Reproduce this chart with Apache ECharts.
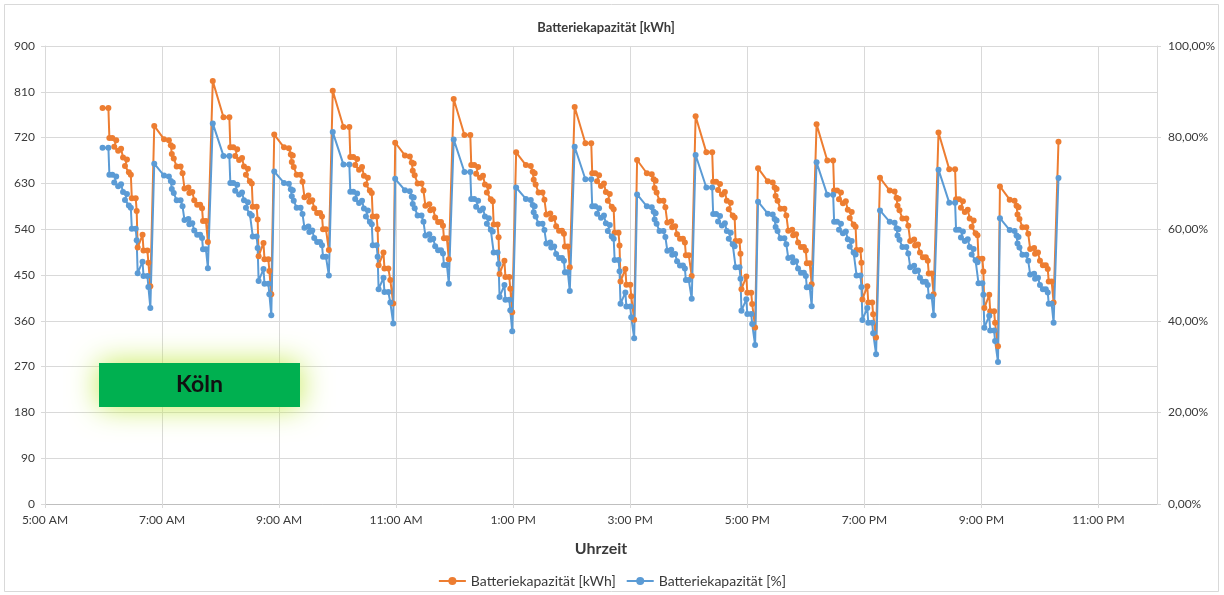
<!DOCTYPE html>
<html>
<head>
<meta charset="utf-8">
<script src="https://cdn.jsdelivr.net/npm/echarts@6/dist/echarts.min.js"></script>
<style>
  html, body { margin: 0; padding: 0; background: #ffffff; }
  #chart { width: 1224px; height: 595px; }
</style>
</head>
<body>
<div id="chart"></div>
<script>
// Logged battery readings for one day, one line per discharge cycle.
const clock = [
  '5:59','6:05','6:06','6:09','6:13','6:11','6:15','6:18','6:20','6:24','6:22','6:26','6:28','6:29','6:33','6:34','6:35','6:40','6:41','6:45','6:46','6:48',
  '6:52','7:02','7:07','7:09','7:11','7:10','7:12','7:15','7:19','7:21','7:23','7:27','7:28','7:31','7:33','7:36','7:39','7:41','7:42','7:45','7:47',
  '7:52','8:03','8:09','8:10','8:13','8:17','8:15','8:19','8:22','8:24','8:28','8:26','8:30','8:32','8:33','8:37','8:38','8:39','8:44','8:45','8:49','8:50','8:52',
  '8:55','9:05','9:10','9:12','9:14','9:13','9:15','9:18','9:22','9:24','9:26','9:30','9:31','9:34','9:36','9:39','9:42','9:44','9:45','9:48','9:51',
  '9:55','10:06','10:12','10:13','10:16','10:20','10:18','10:22','10:25','10:27','10:31','10:29','10:33','10:35','10:36','10:40','10:41','10:42','10:47','10:48','10:52','10:54','10:57',
  '10:59','11:09','11:14','11:16','11:18','11:17','11:19','11:22','11:26','11:28','11:30','11:34','11:35','11:38','11:40','11:43','11:46','11:48','11:49','11:52','11:54',
  '11:59','12:10','12:16','12:17','12:20','12:24','12:22','12:26','12:29','12:31','12:35','12:33','12:37','12:39','12:40','12:44','12:45','12:46','12:51','12:52','12:56','12:57','12:59',
  '13:03','13:13','13:18','13:20','13:22','13:21','13:23','13:26','13:30','13:32','13:34','13:38','13:39','13:42','13:44','13:47','13:50','13:52','13:53','13:56','13:58',
  '14:03','14:14','14:20','14:21','14:24','14:28','14:26','14:30','14:33','14:35','14:39','14:37','14:41','14:43','14:44','14:48','14:49','14:50','14:55','14:56','15:00','15:01','15:04',
  '15:07','15:17','15:22','15:24','15:26','15:25','15:27','15:30','15:34','15:36','15:38','15:42','15:43','15:46','15:48','15:51','15:54','15:56','15:57','16:00','16:03',
  '16:07','16:18','16:24','16:25','16:28','16:32','16:30','16:34','16:37','16:39','16:43','16:41','16:45','16:47','16:48','16:52','16:53','16:54','16:59','17:00','17:04','17:05','17:08',
  '17:11','17:21','17:26','17:28','17:30','17:29','17:31','17:34','17:38','17:40','17:42','17:46','17:47','17:50','17:52','17:55','17:58','18:00','18:01','18:04','18:06',
  '18:11','18:22','18:28','18:29','18:32','18:36','18:34','18:38','18:41','18:43','18:47','18:45','18:49','18:51','18:52','18:56','18:57','18:58','19:03','19:04','19:08','19:09','19:12',
  '19:16','19:26','19:31','19:33','19:35','19:34','19:36','19:39','19:43','19:45','19:47','19:51','19:52','19:55','19:57','20:00','20:03','20:05','20:06','20:09','20:11',
  '20:16','20:27','20:33','20:34','20:37','20:41','20:39','20:43','20:46','20:48','20:52','20:50','20:54','20:56','20:57','21:01','21:02','21:03','21:08','21:09','21:13','21:14','21:17',
  '21:19','21:29','21:34','21:36','21:38','21:37','21:39','21:42','21:46','21:48','21:50','21:54','21:55','21:58','22:00','22:03','22:06','22:08','22:09','22:12','22:14',
  '22:19'
];

// Stored energy in kWh
const energyKwh = [
  778,778,719,719,715,702,694,698,681,677,664,652,647,601,601,576,504,529,498,498,474,428,
  743,717,715,705,702,688,679,663,663,650,620,622,611,613,597,588,588,581,556,556,515,
  831,760,760,701,701,697,684,676,680,663,659,647,634,630,584,584,559,487,513,481,481,458,412,
  726,701,699,687,685,672,662,647,647,633,603,606,594,597,581,572,572,565,540,540,499,
  812,741,741,682,682,678,666,657,662,645,641,628,616,611,565,565,540,469,494,463,463,440,394,
  710,685,683,671,669,655,646,630,630,616,586,589,577,579,563,554,554,547,522,522,481,
  796,725,725,666,666,662,649,641,645,628,624,612,599,595,549,549,524,452,478,446,446,423,377,
  691,666,664,653,650,637,628,612,612,598,569,571,560,562,546,537,537,531,506,506,465,
  780,709,709,650,650,646,634,625,630,613,609,596,584,579,533,533,508,437,462,431,431,408,362,
  676,650,648,638,635,621,612,596,596,583,553,555,544,546,530,521,521,514,489,489,448,
  762,691,691,633,633,629,617,608,613,596,592,579,567,563,517,517,492,422,447,415,415,393,347,
  660,634,632,622,619,605,596,580,580,567,537,539,528,530,514,505,505,498,473,473,432,
  746,675,675,616,616,612,599,591,595,578,574,562,549,545,499,499,474,402,428,396,396,373,327,
  641,616,614,602,600,586,577,561,561,547,517,520,508,510,494,485,485,478,453,453,412,
  730,658,658,599,599,595,582,574,578,561,557,545,532,528,482,482,457,385,411,379,379,356,310,
  624,598,596,586,583,569,560,544,544,531,501,503,492,494,478,469,469,462,437,437,396,
  712
];

// State of charge in percent
const chargePct = [
  77.8,77.8,71.9,71.9,71.5,70.2,69.4,69.8,68.1,67.7,66.4,65.2,64.7,60.1,60.1,57.6,50.4,52.9,49.8,49.8,47.4,42.8,
  74.3,71.7,71.5,70.5,70.2,68.8,67.9,66.3,66.3,65.0,62.0,62.2,61.1,61.3,59.7,58.8,58.8,58.1,55.6,55.6,51.5,
  83.1,76.0,76.0,70.1,70.1,69.7,68.4,67.6,68.0,66.3,65.9,64.7,63.4,63.0,58.4,58.4,55.9,48.7,51.3,48.1,48.1,45.8,41.2,
  72.6,70.1,69.9,68.7,68.5,67.2,66.2,64.7,64.7,63.3,60.3,60.6,59.4,59.7,58.1,57.2,57.2,56.5,54.0,54.0,49.9,
  81.2,74.1,74.1,68.2,68.2,67.8,66.6,65.7,66.2,64.5,64.1,62.8,61.6,61.1,56.5,56.5,54.0,46.9,49.4,46.3,46.3,44.0,39.4,
  71.0,68.5,68.3,67.1,66.9,65.5,64.6,63.0,63.0,61.6,58.6,58.9,57.7,57.9,56.3,55.4,55.4,54.7,52.2,52.2,48.1,
  79.6,72.5,72.5,66.6,66.6,66.2,64.9,64.1,64.5,62.8,62.4,61.2,59.9,59.5,54.9,54.9,52.4,45.2,47.8,44.6,44.6,42.3,37.7,
  69.1,66.6,66.4,65.3,65.0,63.7,62.8,61.2,61.2,59.8,56.9,57.1,56.0,56.2,54.6,53.7,53.7,53.1,50.6,50.6,46.5,
  78.0,70.9,70.9,65.0,65.0,64.6,63.4,62.5,63.0,61.3,60.9,59.6,58.4,57.9,53.3,53.3,50.8,43.7,46.2,43.1,43.1,40.8,36.2,
  67.6,65.0,64.8,63.8,63.5,62.1,61.2,59.6,59.6,58.3,55.3,55.5,54.4,54.6,53.0,52.1,52.1,51.4,48.9,48.9,44.8,
  76.2,69.1,69.1,63.3,63.3,62.9,61.7,60.8,61.3,59.6,59.2,57.9,56.7,56.3,51.7,51.7,49.2,42.2,44.7,41.5,41.5,39.3,34.7,
  66.0,63.4,63.2,62.2,61.9,60.5,59.6,58.0,58.0,56.7,53.7,53.9,52.8,53.0,51.4,50.5,50.5,49.8,47.3,47.3,43.2,
  74.6,67.5,67.5,61.6,61.6,61.2,59.9,59.1,59.5,57.8,57.4,56.2,54.9,54.5,49.9,49.9,47.4,40.2,42.8,39.6,39.6,37.3,32.7,
  64.1,61.6,61.4,60.2,60.0,58.6,57.7,56.1,56.1,54.7,51.7,52.0,50.8,51.0,49.4,48.5,48.5,47.8,45.3,45.3,41.2,
  73.0,65.8,65.8,59.9,59.9,59.5,58.2,57.4,57.8,56.1,55.7,54.5,53.2,52.8,48.2,48.2,45.7,38.5,41.1,37.9,37.9,35.6,31.0,
  62.4,59.8,59.6,58.6,58.3,56.9,56.0,54.4,54.4,53.1,50.1,50.3,49.2,49.4,47.8,46.9,46.9,46.2,43.7,43.7,39.6,
  71.2
];

const seriesNames = ['Batteriekapazität [kWh]', 'Batteriekapazität [%]'];
const chartTitle = 'Batteriekapazität [kWh]';
const xAxisTitle = 'Uhrzeit';
const cityLabel = 'Köln';

const FONT = 'Lato, "Open Sans", sans-serif';
const ORANGE = '#ED7D31';
const BLUE = '#5B9BD5';
const GRID = '#D9D9D9';
const TEXT = '#3A3A3A';

function toHours(s) {
  const parts = s.split(':').map(Number);
  return parts[0] + parts[1] / 60;
}

function clockLabel(v) {
  if (v >= 24) return '';
  const h = Math.round(v);
  const h12 = h % 12 === 0 ? 12 : h % 12;
  return h12 + ':00 ' + (h < 12 ? 'AM' : 'PM');
}

const kwhPoints = clock.map((t, i) => [toHours(t), energyKwh[i]]);
const pctPoints = clock.map((t, i) => [toHours(t), chargePct[i]]);

const chart = echarts.init(document.getElementById('chart'), null, { renderer: 'canvas' });

chart.setOption({
  animation: false,
  backgroundColor: '#ffffff',
  textStyle: { fontFamily: FONT },
  title: {
    text: chartTitle,
    left: 601,
    top: 16,
    textAlign: 'center',
    textStyle: { fontFamily: FONT, fontSize: 13, fontWeight: 'bold', color: TEXT }
  },
  grid: { left: 45, right: 67, top: 46, bottom: 91, containLabel: false },
  legend: {
    data: seriesNames,
    left: 'center',
    top: 569,
    itemWidth: 27,
    itemHeight: 10,
    itemGap: 10,
    textStyle: { fontFamily: FONT, fontSize: 14, color: TEXT }
  },
  xAxis: {
    type: 'value',
    min: 5,
    max: 24,
    interval: 2,
    name: xAxisTitle,
    nameLocation: 'middle',
    nameGap: 37,
    nameTextStyle: { fontFamily: FONT, fontSize: 16, fontWeight: 'bold', color: TEXT },
    axisLine: { show: true, lineStyle: { color: '#BFBFBF', width: 1 } },
    axisTick: { show: true, length: 4, lineStyle: { color: GRID } },
    axisLabel: {
      margin: 10,
      fontSize: 12,
      color: TEXT,
      showMaxLabel: false,
      formatter: clockLabel
    },
    splitLine: { show: true, lineStyle: { color: GRID, width: 1 } }
  },
  yAxis: [
    {
      type: 'value',
      min: 0,
      max: 900,
      interval: 90,
      axisLine: { show: true, lineStyle: { color: GRID } },
      axisTick: { show: true, length: 4, lineStyle: { color: GRID } },
      axisLabel: { margin: 10, fontSize: 12, color: TEXT },
      splitLine: { show: true, lineStyle: { color: GRID, width: 1 } }
    },
    {
      type: 'value',
      min: 0,
      max: 100,
      interval: 20,
      position: 'right',
      axisLine: { show: true, lineStyle: { color: GRID } },
      axisTick: { show: true, length: 4, lineStyle: { color: GRID } },
      axisLabel: {
        margin: 11,
        fontSize: 12,
        color: TEXT,
        formatter: v => v.toFixed(2).replace('.', ',') + '%'
      },
      splitLine: { show: false }
    }
  ],
  series: [
    {
      name: seriesNames[0],
      type: 'line',
      yAxisIndex: 0,
      data: kwhPoints,
      symbol: 'circle',
      symbolSize: 6,
      showAllSymbol: true,
      lineStyle: { color: ORANGE, width: 2 },
      itemStyle: { color: ORANGE, borderWidth: 0 },
      emphasis: { disabled: true }
    },
    {
      name: seriesNames[1],
      type: 'line',
      yAxisIndex: 1,
      data: pctPoints,
      symbol: 'circle',
      symbolSize: 6,
      showAllSymbol: true,
      lineStyle: { color: BLUE, width: 2 },
      itemStyle: { color: BLUE, borderWidth: 0 },
      emphasis: { disabled: true }
    }
  ],
  graphic: [
    {
      type: 'rect',
      silent: true,
      shape: { x: 4.5, y: 4.5, width: 1214, height: 587 },
      style: { fill: 'none', stroke: GRID, lineWidth: 1 },
      z: -1
    },
    {
      type: 'rect',
      silent: true,
      shape: { x: 99, y: 363, width: 201, height: 44 },
      style: {
        fill: '#00B050',
        shadowBlur: 30,
        shadowColor: 'rgba(196, 234, 80, 1)',
        shadowOffsetX: 0,
        shadowOffsetY: 0
      },
      z: 10
    },
    {
      type: 'text',
      silent: true,
      style: {
        text: cityLabel,
        x: 199.5,
        y: 385,
        fill: '#111111',
        font: 'bold 23px ' + FONT,
        align: 'center',
        verticalAlign: 'middle'
      },
      z: 11
    }
  ]
});
</script>
</body>
</html>
